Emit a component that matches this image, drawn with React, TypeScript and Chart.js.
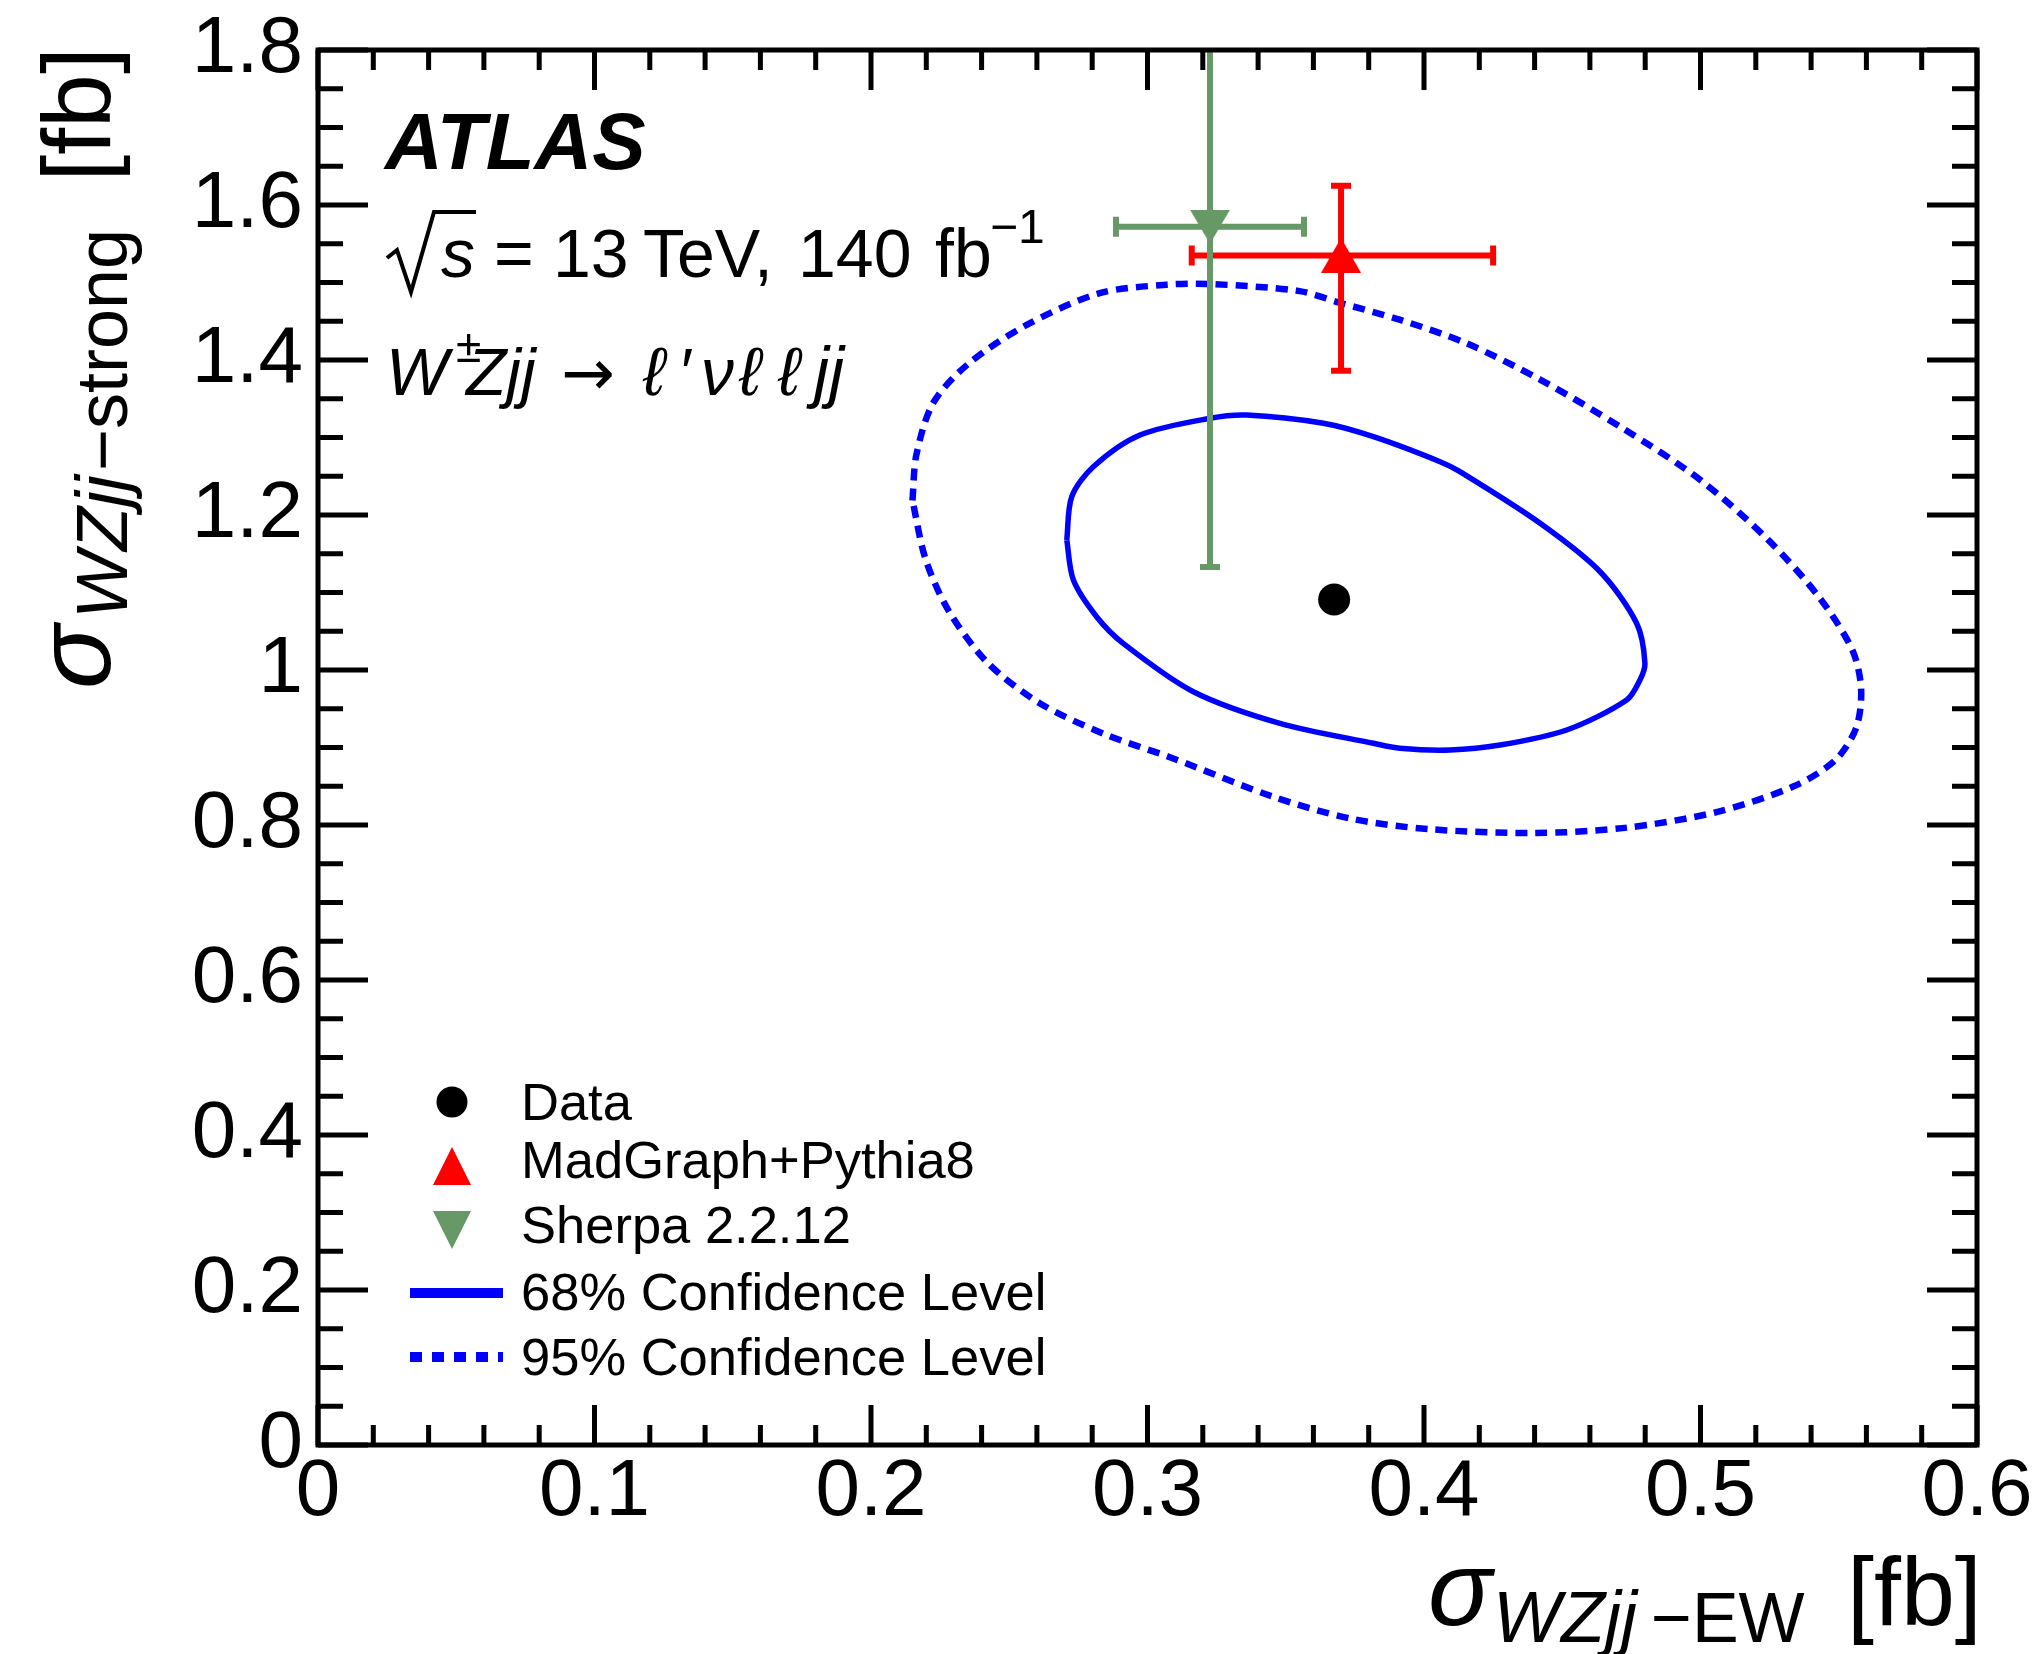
import React, { useEffect, useRef } from 'react';
import { Chart, registerables } from 'chart.js';

Chart.register(...registerables);

// ---------------- data ----------------
const X_TICK_LABELS = ['0', '0.1', '0.2', '0.3', '0.4', '0.5', '0.6'];
const Y_TICK_LABELS = ['0', '0.2', '0.4', '0.6', '0.8', '1', '1.2', '1.4', '1.6', '1.8'];

const DATA_X = [0.3675];
const DATA_Y = [1.091];

const MADGRAPH_X = [0.370];
const MADGRAPH_Y = [1.535];
const MADGRAPH_XERR_LO = [0.054];
const MADGRAPH_XERR_HI = [0.055];
const MADGRAPH_YERR_LO = [0.149];
const MADGRAPH_YERR_HI = [0.090];

const SHERPA_X = [0.3226];
const SHERPA_Y = [1.572];
const SHERPA_XERR_LO = [0.034];
const SHERPA_XERR_HI = [0.034];
const SHERPA_YERR_LO = [0.439];
const SHERPA_YERR_HI = [0.439];

const CL68_X = [0.2708, 0.2726, 0.2804, 0.2973, 0.3226, 0.3359, 0.3636, 0.3817, 0.4058, 0.4130, 0.4420, 0.4637, 0.4769, 0.4799, 0.4781, 0.4733, 0.4516, 0.4275, 0.4094, 0.3913, 0.3817, 0.3479, 0.3166, 0.2912, 0.2816, 0.2732, 0.2708];
const CL68_Y = [1.1677, 1.2236, 1.2623, 1.3032, 1.3248, 1.3290, 1.3183, 1.3010, 1.2688, 1.2559, 1.1893, 1.1268, 1.0603, 1.0086, 0.9871, 0.9613, 0.9226, 0.9032, 0.8968, 0.8990, 0.9054, 0.9312, 0.9720, 1.0344, 1.0688, 1.1161, 1.1677];

const CL95_X = [0.2150, 0.2164, 0.2225, 0.2352, 0.2563, 0.2827, 0.3069, 0.3226, 0.3550, 0.3696, 0.3912, 0.4152, 0.4420, 0.4722, 0.4998, 0.5243, 0.5431, 0.5549, 0.5581, 0.5563, 0.5487, 0.5337, 0.5055, 0.4726, 0.4397, 0.4021, 0.3738, 0.3454, 0.3081, 0.2846, 0.2610, 0.2422, 0.2281, 0.2197, 0.2150];
const CL95_Y = [1.2188, 1.2775, 1.3446, 1.3950, 1.4453, 1.4862, 1.4972, 1.4981, 1.4889, 1.4738, 1.4520, 1.4218, 1.3748, 1.3111, 1.2456, 1.1685, 1.0930, 1.0259, 0.9756, 0.9253, 0.8835, 0.8499, 0.8164, 0.7963, 0.7896, 0.7946, 0.8080, 0.8365, 0.8875, 0.9170, 0.9572, 1.0092, 1.0763, 1.1434, 1.2188];

const LEGEND_LABELS = ['Data', 'MadGraph+Pythia8', 'Sherpa 2.2.12', '68% Confidence Level', '95% Confidence Level'];

// ---------------- styles ----------------
const FONT = "'Liberation Sans', Arial, Helvetica, sans-serif";
const BLUE = '#0000ff';
const RED = '#ff0000';
const GREEN = '#669966';

function makeTriangle(color: string, down: boolean, w: number, h: number) {
  const c = document.createElement('canvas');
  c.width = w;
  c.height = h;
  const g = c.getContext('2d')!;
  g.fillStyle = color;
  g.beginPath();
  if (!down) {
    g.moveTo(w / 2, 0);
    g.lineTo(w, h);
    g.lineTo(0, h);
  } else {
    g.moveTo(0, 0);
    g.lineTo(w, 0);
    g.lineTo(w / 2, h);
  }
  g.closePath();
  g.fill();
  return c;
}

const zip = (xs: number[], ys: number[]) => xs.map((x, i) => ({ x, y: ys[i] }));

function txt(ctx: CanvasRenderingContext2D, s: string, x: number, y: number, size: number, style = '', family = FONT) {
  ctx.font = `${style} ${size}px ${family}`;
  ctx.fillText(s, x, y);
}

const framePlugin = {
  id: 'frame',
  afterDraw(chart: any) {
    const ctx = chart.ctx as CanvasRenderingContext2D;
    const { left, right, top, bottom } = chart.chartArea;
    const xs = chart.scales.x;
    const ys = chart.scales.y;
    ctx.save();
    ctx.strokeStyle = '#000';
    ctx.lineWidth = 5;
    ctx.lineCap = 'butt';
    ctx.beginPath();
    for (let i = 0; i <= 30; i++) {
      const px = xs.getPixelForValue(i * 0.02);
      const len = i % 5 === 0 ? 40 : 20;
      ctx.moveTo(px, bottom);
      ctx.lineTo(px, bottom - len);
      ctx.moveTo(px, top);
      ctx.lineTo(px, top + len);
    }
    for (let i = 0; i <= 36; i++) {
      const py = ys.getPixelForValue(i * 0.05);
      const len = i % 4 === 0 ? 50 : 25;
      ctx.moveTo(left, py);
      ctx.lineTo(left + len, py);
      ctx.moveTo(right, py);
      ctx.lineTo(right - len, py);
    }
    ctx.stroke();
    ctx.lineJoin = 'miter';
    ctx.strokeRect(left, top, right - left, bottom - top);
    ctx.restore();
  },
};

function drawErrBars(chart: any, x: number, y: number, xlo: number, xhi: number, ylo: number, yhi: number, color: string) {
  const ctx = chart.ctx as CanvasRenderingContext2D;
  const xs = chart.scales.x;
  const ys = chart.scales.y;
  const px = xs.getPixelForValue(x);
  const py = ys.getPixelForValue(y);
  const pxl = xs.getPixelForValue(x - xlo);
  const pxh = xs.getPixelForValue(x + xhi);
  const pyl = ys.getPixelForValue(y - ylo);
  const pyh = ys.getPixelForValue(y + yhi);
  const cap = 10;
  ctx.strokeStyle = color;
  ctx.lineWidth = 6;
  ctx.lineCap = 'butt';
  ctx.beginPath();
  ctx.moveTo(pxl, py);
  ctx.lineTo(pxh, py);
  ctx.moveTo(px, pyl);
  ctx.lineTo(px, pyh);
  ctx.moveTo(pxl, py - cap);
  ctx.lineTo(pxl, py + cap);
  ctx.moveTo(pxh, py - cap);
  ctx.lineTo(pxh, py + cap);
  ctx.moveTo(px - cap, pyl);
  ctx.lineTo(px + cap, pyl);
  ctx.moveTo(px - cap, pyh);
  ctx.lineTo(px + cap, pyh);
  ctx.stroke();
}

const errorBarPlugin = {
  id: 'errbars',
  beforeDatasetDraw(chart: any, args: any) {
    if (args.index !== 2) return;
    const ctx = chart.ctx as CanvasRenderingContext2D;
    const { left, right, top, bottom } = chart.chartArea;
    ctx.save();
    ctx.beginPath();
    ctx.rect(left, top, right - left, bottom - top);
    ctx.clip();
    drawErrBars(chart, MADGRAPH_X[0], MADGRAPH_Y[0], MADGRAPH_XERR_LO[0], MADGRAPH_XERR_HI[0], MADGRAPH_YERR_LO[0], MADGRAPH_YERR_HI[0], RED);
    drawErrBars(chart, SHERPA_X[0], SHERPA_Y[0], SHERPA_XERR_LO[0], SHERPA_XERR_HI[0], SHERPA_YERR_LO[0], SHERPA_YERR_HI[0], GREEN);
    ctx.restore();
  },
};

const textPlugin = {
  id: 'texts',
  afterDraw(chart: any) {
    const ctx = chart.ctx as CanvasRenderingContext2D;
    ctx.save();
    ctx.fillStyle = '#000';
    ctx.textAlign = 'left';
    ctx.textBaseline = 'alphabetic';

    // ATLAS label
    txt(ctx, 'ATLAS', 385, 169, 80, 'italic bold');

    // sqrt(s) line
    ctx.strokeStyle = '#000';
    ctx.lineWidth = 4;
    ctx.lineJoin = 'miter';
    ctx.beginPath();
    ctx.moveTo(387, 258);
    ctx.lineTo(397, 250);
    ctx.lineTo(411, 292);
    ctx.lineTo(434, 212);
    ctx.lineTo(476, 212);
    ctx.stroke();
    txt(ctx, 's', 441, 277, 68, 'italic');
    txt(ctx, '=', 494, 277, 68);
    txt(ctx, '13', 553, 277, 68);
    txt(ctx, 'TeV,', 643, 277, 68);
    txt(ctx, '140', 798, 277, 68);
    txt(ctx, 'fb', 935, 277, 68);
    txt(ctx, '\u22121', 990, 243, 48);

    // process line
    txt(ctx, 'W', 386, 395, 66, 'italic');
    txt(ctx, '\u00b1', 456, 362, 46);
    txt(ctx, 'Zjj', 466, 395, 66, 'italic');
    txt(ctx, '\u2192', 561, 395, 64, '', "'DejaVu Sans', sans-serif");
    txt(ctx, '\u2113', 643, 395, 68, 'italic');
    txt(ctx, '\u2032', 681, 395, 66);
    txt(ctx, '\u03bd', 701, 395, 66, 'italic');
    txt(ctx, '\u2113', 739, 395, 68, 'italic');
    txt(ctx, '\u2113', 778, 395, 68, 'italic');
    txt(ctx, 'jj', 814, 395, 68, 'italic');

    // legend
    const lx = 452;
    const rows = [1102, 1166, 1230, 1293, 1357];
    const base = [1120, 1178, 1243, 1310, 1375];
    ctx.fillStyle = '#000';
    ctx.beginPath();
    ctx.arc(lx, rows[0], 15.5, 0, Math.PI * 2);
    ctx.fill();
    ctx.fillStyle = RED;
    ctx.beginPath();
    ctx.moveTo(lx, rows[1] - 19);
    ctx.lineTo(lx + 19, rows[1] + 19);
    ctx.lineTo(lx - 19, rows[1] + 19);
    ctx.closePath();
    ctx.fill();
    ctx.fillStyle = GREEN;
    ctx.beginPath();
    ctx.moveTo(lx - 19, rows[2] - 19);
    ctx.lineTo(lx + 19, rows[2] - 19);
    ctx.lineTo(lx, rows[2] + 19);
    ctx.closePath();
    ctx.fill();
    ctx.strokeStyle = BLUE;
    ctx.lineWidth = 10;
    ctx.lineCap = 'butt';
    ctx.beginPath();
    ctx.moveTo(410, rows[3]);
    ctx.lineTo(503, rows[3]);
    ctx.stroke();
    ctx.setLineDash([12, 10]);
    ctx.beginPath();
    ctx.moveTo(410, rows[4]);
    ctx.lineTo(503, rows[4]);
    ctx.stroke();
    ctx.setLineDash([]);
    ctx.fillStyle = '#000';
    LEGEND_LABELS.forEach((l, i) => txt(ctx, l, 521, base[i], 52.5));

    // x axis title
    txt(ctx, '\u03c3', 1428, 1625, 106, 'italic');
    txt(ctx, 'WZjj', 1493, 1642, 72, 'italic');
    txt(ctx, '\u2212EW', 1651, 1642, 70);
    txt(ctx, '[fb]', 1847, 1625, 97);

    // y axis title (rotated)
    ctx.save();
    ctx.translate(110, 689);
    ctx.rotate(-Math.PI / 2);
    txt(ctx, '\u03c3', 0, 0, 106, 'italic');
    ctx.font = `italic 106px ${FONT}`;
    let u = ctx.measureText('\u03c3').width + 6;
    txt(ctx, 'WZjj', u, 17, 72, 'italic');
    ctx.font = `italic 72px ${FONT}`;
    u += ctx.measureText('WZjj').width + 4;
    txt(ctx, '\u2212strong', u, 17, 72);
    ctx.font = `97px ${FONT}`;
    const wfb = ctx.measureText('[fb]').width;
    txt(ctx, '[fb]', 689 - 54 - wfb + 7, 0, 97);
    ctx.restore();

    ctx.restore();
  },
};

export default function App() {
  const ref = useRef<HTMLCanvasElement>(null);
  useEffect(() => {
    document.body.style.margin = '0';
    const canvas = ref.current!;
    const triUp = makeTriangle(RED, false, 40, 35);
    const triDown = makeTriangle(GREEN, true, 40, 34);
    const tickFont = { family: FONT, size: 80 };
    const chart = new Chart(canvas, {
      type: 'scatter',
      data: {
        datasets: [
          {
            label: 'Data',
            data: zip(DATA_X, DATA_Y),
            pointStyle: 'circle',
            pointRadius: 16,
            backgroundColor: '#000',
            borderColor: '#000',
            borderWidth: 0,
          },
          {
            label: 'MadGraph+Pythia8',
            data: zip(MADGRAPH_X, MADGRAPH_Y),
            pointStyle: triUp as any,
            pointRadius: 20,
            backgroundColor: RED,
            borderColor: RED,
          },
          {
            label: 'Sherpa 2.2.12',
            data: zip(SHERPA_X, SHERPA_Y),
            pointStyle: triDown as any,
            pointRadius: 20,
            backgroundColor: GREEN,
            borderColor: GREEN,
          },
          {
            label: '68% Confidence Level',
            data: zip(CL68_X, CL68_Y),
            showLine: true,
            pointRadius: 0,
            borderColor: BLUE,
            borderWidth: 5.5,
            tension: 0.3,
            fill: false,
          },
          {
            label: '95% Confidence Level',
            data: zip(CL95_X, CL95_Y),
            showLine: true,
            pointRadius: 0,
            borderColor: BLUE,
            borderWidth: 6.5,
            borderDash: [12, 8],
            borderCapStyle: 'butt',
            tension: 0.3,
            fill: false,
          },
        ],
      } as any,
      options: {
        animation: false,
        responsive: false,
        devicePixelRatio: 1,
        events: [],
        layout: { padding: { top: 50, right: 61, left: 0, bottom: 0 } },
        plugins: { legend: { display: false }, tooltip: { enabled: false } },
        scales: {
          x: {
            type: 'linear',
            min: 0,
            max: 0.6,
            afterFit: (s: any) => {
              s.height = 209;
              s.paddingLeft = 0;
              s.paddingRight = 0;
            },
            grid: { display: false, drawTicks: false },
            border: { display: false },
            ticks: {
              stepSize: 0.1,
              padding: 0,
              font: tickFont,
              color: '#000',
              maxRotation: 0,
              autoSkip: false,
              callback: (_v: any, i: number) => X_TICK_LABELS[i],
            },
          },
          y: {
            type: 'linear',
            min: 0,
            max: 1.8,
            afterFit: (s: any) => {
              s.width = 318;
              s.paddingTop = 0;
              s.paddingBottom = 0;
            },
            grid: { display: false, drawTicks: false },
            border: { display: false },
            ticks: {
              stepSize: 0.2,
              padding: 15,
              font: tickFont,
              color: '#000',
              autoSkip: false,
              callback: (_v: any, i: number) => Y_TICK_LABELS[i],
            },
          },
        },
      } as any,
      plugins: [framePlugin, errorBarPlugin, textPlugin],
    });
    return () => chart.destroy();
  }, []);
  return <canvas ref={ref} width={2038} height={1654} style={{ display: 'block', width: '2038px', height: '1654px' }} />;
}
